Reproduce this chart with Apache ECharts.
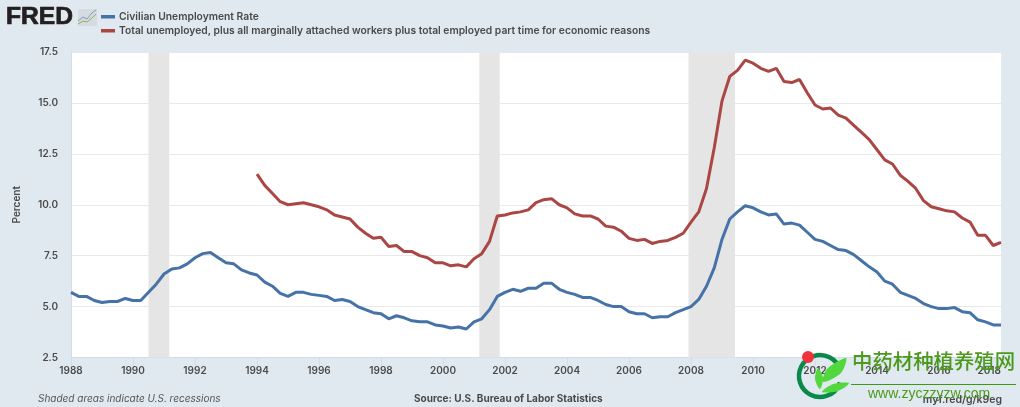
<!DOCTYPE html>
<html><head><meta charset="utf-8">
<style>html,body{margin:0;padding:0;background:#e1e9f0}#c{width:1020px;height:407px}</style>
<script src="https://cdn.jsdelivr.net/npm/echarts@6/dist/echarts.min.js"></script>
</head><body><div id="c"></div>
<script>
const startYear = 1988;
const unemploymentRate = [
5.7,5.5,5.5,5.3, 5.2,5.25,5.25,5.4, 5.3,5.3,5.7,6.1, 6.6,6.85,6.9,7.1, 7.4,7.6,7.65,7.4,
7.15,7.1,6.8,6.65, 6.55,6.2,6.0,5.65, 5.5,5.7,5.7,5.6, 5.55,5.5,5.3,5.35, 5.25,5.0,4.85,4.7,
4.65,4.4,4.55,4.45, 4.3,4.25,4.25,4.1, 4.05,3.95,4.0,3.9, 4.25,4.4,4.85,5.5, 5.7,5.85,5.75,5.9,
5.9,6.15,6.15,5.85, 5.7,5.6,5.45,5.45, 5.3,5.1,5.0,5.0, 4.75,4.65,4.65,4.45, 4.5,4.5,4.7,4.85,
5.0,5.35,6.0,6.9, 8.3,9.3,9.65,9.95, 9.85,9.65,9.5,9.55, 9.05,9.1,9.0,8.65, 8.3,8.2,8.0,7.8,
7.75,7.55,7.25,6.95, 6.7,6.25,6.1,5.7, 5.55,5.4,5.15,5.0, 4.9,4.9,4.95,4.75, 4.7,4.35,4.25,4.1, 4.1];
const u6Rate = [
null,null,null,null,null,null,null,null,null,null,null,null,null,null,null,null,null,null,null,null,
null,null,null,null,
11.5,10.95,10.55,10.15, 10.0,10.05,10.1,10.0, 9.9,9.75,9.5,9.4, 9.3,8.9,8.6,8.35,
8.4,7.95,8.0,7.7, 7.7,7.5,7.4,7.15, 7.15,7.0,7.05,6.95, 7.35,7.6,8.2,9.45, 9.5,9.6,9.65,9.75,
10.1,10.25,10.3,10.0, 9.85,9.55,9.45,9.45, 9.3,8.95,8.9,8.7, 8.35,8.25,8.3,8.1, 8.2,8.25,8.4,8.6,
9.15,9.65,10.8,12.8, 15.1,16.3,16.6,17.1, 16.95,16.7,16.55,16.7, 16.05,16.0,16.15,15.5, 14.9,14.7,14.75,14.4,
14.25,13.9,13.55,13.2, 12.7,12.2,12.0,11.45, 11.15,10.8,10.2,9.9, 9.8,9.7,9.65,9.35, 9.15,8.5,8.5,8.0, 8.15];
const recessions = [[1990.5,1991.17],[2001.17,2001.83],[2007.92,2009.42]];
const yTicks = {min:2.5,max:17.5,step:2.5};
const xTicks = {min:1988,max:2018,step:2};
const seriesNames = ['Civilian Unemployment Rate','Total unemployed, plus all marginally attached workers plus total employed part time for economic reasons'];
const toPairs = a => a.map((v,i)=>[startYear+i/4,v]);
const FONT = 'Inter,"Liberation Sans",sans-serif';
const chart = echarts.init(document.getElementById('c'),null,{renderer:'canvas'});
const txt='#4a4a4a';
chart.setOption({
 animation:false,
 backgroundColor:'#e1e9f0',
 grid:{left:71,right:19,top:52,bottom:49.5,backgroundColor:'#ffffff',show:true,borderWidth:0,outerBoundsMode:'none'},
 xAxis:{type:'value',min:xTicks.min,max:xTicks.max,interval:xTicks.step,
  axisLine:{show:true,lineStyle:{color:'#d3dcea',width:1}},
  axisTick:{show:true,length:8,lineStyle:{color:'#d3dcea'}},
  splitLine:{show:false},
  axisLabel:{color:txt,fontFamily:FONT,fontSize:10,fontWeight:600,margin:8,hideOverlap:false,
    formatter:v=>String(v),alignMaxLabel:'right'}},
 yAxis:{type:'value',min:yTicks.min,max:yTicks.max,interval:yTicks.step,
  name:'Percent',nameLocation:'middle',nameGap:49,nameTextStyle:{color:txt,fontFamily:FONT,fontSize:10,fontWeight:600},
  axisLine:{show:true,lineStyle:{color:'#d3dcea'}},axisTick:{show:false},
  splitLine:{lineStyle:{color:'#e9e9ec',width:1}},
  axisLabel:{color:txt,fontFamily:FONT,fontSize:10,fontWeight:600,margin:13,formatter:v=>v.toFixed(1)}},
 series:[
  {type:'line',name:'Recessions',data:[],silent:true,z:1,
   markArea:{silent:true,itemStyle:{color:'#e5e5e5'},data:recessions.map(r=>[{xAxis:r[0]},{xAxis:r[1]}])}},
  {type:'line',name:seriesNames[0],data:toPairs(unemploymentRate),showSymbol:false,smooth:false,z:3,
   lineStyle:{color:'#4572a7',width:3},itemStyle:{color:'#4572a7'}},
  {type:'line',name:seriesNames[1],data:toPairs(u6Rate),showSymbol:false,smooth:false,z:3,connectNulls:false,
   lineStyle:{color:'#aa4643',width:3},itemStyle:{color:'#aa4643'}}
 ],
 graphic:[
  {type:'text',x:6,y:6,scaleX:1.07,z:10,style:{text:'FRED',font:'900 23px "Liberation Sans",sans-serif',fill:'#231f20',stroke:'#231f20',lineWidth:0.7}},
  {type:'rect',z:10,shape:{x:78,y:9,width:19,height:17,r:1},style:{fill:'#d5dbe0'}},
  {type:'polyline',z:11,shape:{points:[[78,21],[83,17],[87,19],[92,13],[96,10]]},style:{stroke:'#7f9fbf',lineWidth:1,fill:'none'}},
  {type:'polyline',z:11,shape:{points:[[78,24],[83,21],[87,22],[92,18],[96,14]]},style:{stroke:'#8fb050',lineWidth:1,fill:'none'}},
  {type:'rect',z:10,shape:{x:101,y:15,width:14,height:3.5},style:{fill:'#4572a7'}},
  {type:'rect',z:10,shape:{x:101,y:29,width:14,height:3.5},style:{fill:'#aa4643'}},
  {type:'text',x:119,y:11.5,z:10,style:{text:seriesNames[0],font:'600 10.3px '+FONT,fill:txt}},
  {type:'text',x:119,y:25.5,z:10,style:{text:seriesNames[1],font:'600 10.3px '+FONT,fill:txt}},
  {type:'text',x:38,y:394,z:10,style:{text:'Shaded areas indicate U.S. recessions',font:'italic 10px '+FONT,fill:'#555'}},
  {type:'text',x:414,y:394,z:10,style:{text:'Source: U.S. Bureau of Labor Statistics',font:'700 10px '+FONT,fill:txt}},
  {type:'text',x:1002,y:394,z:10,style:{text:'myf.red/g/k9eg',font:'600 10.5px '+FONT,fill:txt,align:'right'}},
  // site watermark
  {type:'arc',z:20,shape:{cx:820,cy:376,r:21,startAngle:-Math.PI*0.1,endAngle:Math.PI*0.1,clockwise:false},style:{stroke:'#0a8a4a',lineWidth:4.5,fill:'none'}},
  {type:'circle',z:21,shape:{cx:808,cy:357,r:6},style:{fill:'#f0323c'}},
  {type:'polygon',z:21,shape:{points:[[823,382],[827,369],[846,358],[841,373]],smooth:0.3},style:{fill:'#52d83c'}},
  {type:'polygon',z:21,shape:{points:[[822,392],[833,384],[849,383],[838,391]],smooth:0.3},style:{fill:'#52d83c'}},
  {type:'polygon',z:21,shape:{points:[[818,368],[815,379],[820,389],[823,378]],smooth:0.3},style:{fill:'#52d83c'}},
  {type:'text',x:852,y:351,z:21,style:{text:'中药材种植养殖网',font:'500 20.4px "Noto Sans CJK SC",sans-serif',fill:'#4b9a1c'}},
  {type:'rect',z:21,shape:{x:851,y:384,width:165,height:1},style:{fill:'#3a9a10'}},
  {type:'text',x:868,y:387,z:21,style:{text:'www.zyczzyzw.com',font:'14px "Liberation Sans",sans-serif',fill:'#4b9a1c'}}
 ]
});
</script></body></html>
